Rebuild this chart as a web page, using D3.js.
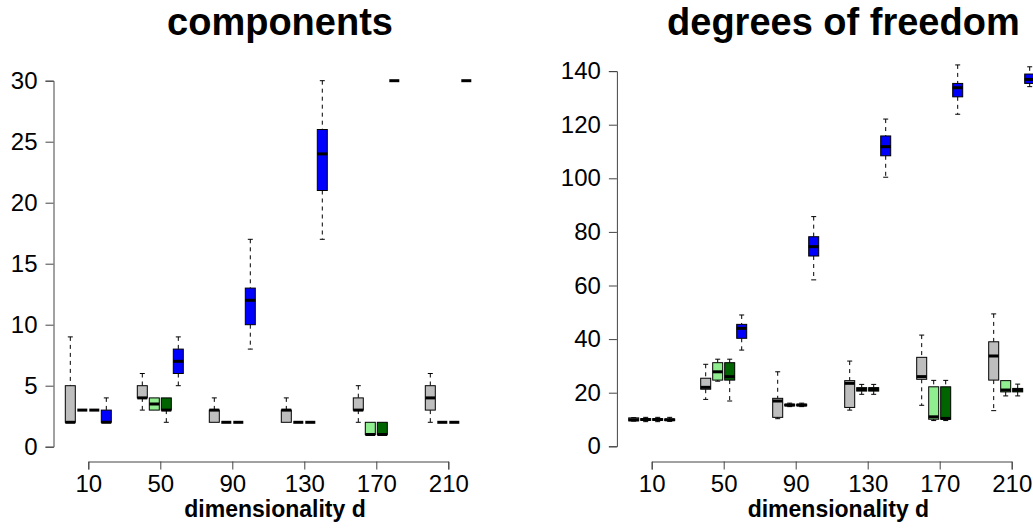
<!DOCTYPE html>
<html>
<head>
<meta charset="utf-8">
<script src="https://cdn.jsdelivr.net/npm/d3@7"></script>
<style>
  body { margin: 0; background: #fff; }
  svg { display: block; font-family: "Liberation Sans", Arial, sans-serif; }
</style>
</head>
<body>
<div id="chart"></div>
<script>
////////////////////////////////////////////////////////////////////////
// Data: five-number summaries [min, q1, median, q3, max] per dimension

let dims = [10, 50, 90, 130, 170, 210];
let boxColors = ["#bebebe", "#90ee90", "#006400", "#0000ff"];

let compGray  = [[2, 2, 2, 5, 9], [3, 4, 4, 5, 6], [2, 2, 3, 3, 4], [2, 2, 3, 3, 4], [2, 3, 3, 4, 5], [2, 3, 4, 5, 6]];
let compLight = [[3, 3, 3, 3, 3], [3, 3, 3.5, 4, 4], [2, 2, 2, 2, 2], [2, 2, 2, 2, 2], [1, 1, 1, 2, 2], [2, 2, 2, 2, 2]];
let compDark  = [[3, 3, 3, 3, 3], [2, 3, 3, 4, 4], [2, 2, 2, 2, 2], [2, 2, 2, 2, 2], [1, 1, 1, 2, 2], [2, 2, 2, 2, 2]];
let compBlue  = [[2, 2, 2, 3, 4], [5, 6, 7, 8, 9], [8, 10, 12, 13, 17], [17, 21, 24, 26, 30], [30, 30, 30, 30, 30], [30, 30, 30, 30, 30]];

let dfGray  = [[9.4, 9.5, 9.9, 10.6, 10.7], [17.5, 21.3, 22, 25.4, 30.6], [10.3, 10.8, 16.9, 17.9, 27.8],
               [13.5, 14.5, 23.5, 24.5, 31.8], [15.3, 25, 26, 33.2, 41.5], [13.3, 24.7, 33.7, 39, 49.4]];
let dfLight = [[9.2, 9.7, 10, 10.3, 10.8], [24.3, 24.7, 27.8, 31.2, 32.5], [14.8, 15.1, 15.4, 15.7, 16.1],
               [19.4, 20.6, 21.2, 21.9, 23.1], [9.6, 10.1, 11, 22.2, 24.6], [18.8, 20.3, 21, 24.5, 24.5]];
let dfDark  = [[9.2, 9.7, 10, 10.3, 10.8], [16.9, 24.7, 26, 31.2, 32.5], [14.8, 15.1, 15.4, 15.7, 16.1],
               [19.4, 20.6, 21.2, 21.9, 23.1], [9.6, 10.1, 10.4, 22.2, 24.6], [18.8, 20.3, 21, 21.6, 23.2]];
let dfBlue  = [[9.3, 9.6, 9.9, 10.2, 10.8], [35.9, 40.3, 44, 45.5, 49], [62.1, 71, 74.5, 78.2, 85.7],
               [100.4, 108.4, 111.8, 115.8, 122.1], [123.9, 130.4, 133.8, 135.4, 142.3], [134.2, 135.4, 136.9, 138.9, 141.6]];

let compTicks = [0, 5, 10, 15, 20, 25, 30];
let dfTicks = [0, 20, 40, 60, 80, 100, 120, 140];

////////////////////////////////////////////////////////////////////////
// Layout helpers

let width = 1033, height = 531;
let panelShift = 563.4;
let offsets = [-10, -10 / 3, 10 / 3, 10];   // box positions around each dimension
let boxW = 10;

let svg = d3.select("#chart").append("svg")
  .attr("width", width)
  .attr("height", height);

function flatten(series) {
  let out = [];
  series.forEach((s, k) => {
    s.forEach((d, i) => out.push({ dim: dims[i], k: k, v: d }));
  });
  return out;
}

function drawPanel(x0, title, yDomain, yRange, ticks, series) {
  let xScale = d3.scaleLinear().domain([10, 210]).range([x0 + 88.3, x0 + 448.3]);
  let yScale = d3.scaleLinear().domain(yDomain).range(yRange);
  let g = svg.append("g");

  // y axis
  let yAxis = g.append("g")
    .attr("transform", "translate(" + (x0 + 53.5) + ",0)")
    .call(d3.axisLeft(yScale).tickValues(ticks).tickSizeOuter(0).tickSize(8).tickPadding(8));

  // x axis
  let xAxis = g.append("g")
    .attr("transform", "translate(0," + 461.5 + ")")
    .call(d3.axisBottom(xScale).tickValues(dims).tickSizeOuter(0).tickSize(8).tickPadding(5));

  [yAxis, xAxis].forEach(a => {
    a.select(".domain").attr("stroke", "#444");
    a.selectAll(".tick line").attr("stroke", "#444");
    a.selectAll(".tick text").attr("fill", "#000").style("font-size", "24px");
  });

  // boxes
  let boxes = g.append("g").selectAll("g")
    .data(flatten(series))
    .enter()
    .append("g")
    .attr("transform", d => "translate(" + (xScale(d.dim + offsets[d.k])) + ",0)");

  boxes.append("line")
    .attr("y1", d => yScale(d.v[4])).attr("y2", d => yScale(d.v[3]))
    .attr("stroke", "#000").attr("stroke-dasharray", "4,4");
  boxes.append("line")
    .attr("y1", d => yScale(d.v[1])).attr("y2", d => yScale(d.v[0]))
    .attr("stroke", "#000").attr("stroke-dasharray", "4,4");
  boxes.filter(d => d.v[4] > d.v[3]).append("line")
    .attr("x1", -2.5).attr("x2", 2.5)
    .attr("y1", d => yScale(d.v[4])).attr("y2", d => yScale(d.v[4]))
    .attr("stroke", "#000");
  boxes.filter(d => d.v[0] < d.v[1]).append("line")
    .attr("x1", -2.5).attr("x2", 2.5)
    .attr("y1", d => yScale(d.v[0])).attr("y2", d => yScale(d.v[0]))
    .attr("stroke", "#000");
  boxes.append("rect")
    .attr("x", -boxW / 2).attr("width", boxW)
    .attr("y", d => yScale(d.v[3]))
    .attr("height", d => yScale(d.v[1]) - yScale(d.v[3]))
    .attr("fill", d => boxColors[d.k])
    .attr("stroke", "#000").attr("stroke-width", 1);
  boxes.append("line")
    .attr("x1", -boxW / 2).attr("x2", boxW / 2)
    .attr("y1", d => yScale(d.v[2])).attr("y2", d => yScale(d.v[2]))
    .attr("stroke", "#000").attr("stroke-width", 3);

  // title and x label
  g.append("text")
    .attr("x", x0 + 280).attr("y", 35)
    .attr("text-anchor", "middle")
    .style("font-size", "38px").style("font-weight", "bold")
    .text(title);
  g.append("text")
    .attr("x", x0 + 275).attr("y", 517)
    .attr("text-anchor", "middle")
    .style("font-size", "23px").style("font-weight", "bold")
    .text("dimensionality d");
}

drawPanel(0, "components", [0, 30], [446.7, 80.7], compTicks, [compGray, compLight, compDark, compBlue]);
drawPanel(panelShift, "degrees of freedom", [0, 140], [446.3, 71.1], dfTicks, [dfGray, dfLight, dfDark, dfBlue]);
</script>
</body>
</html>
